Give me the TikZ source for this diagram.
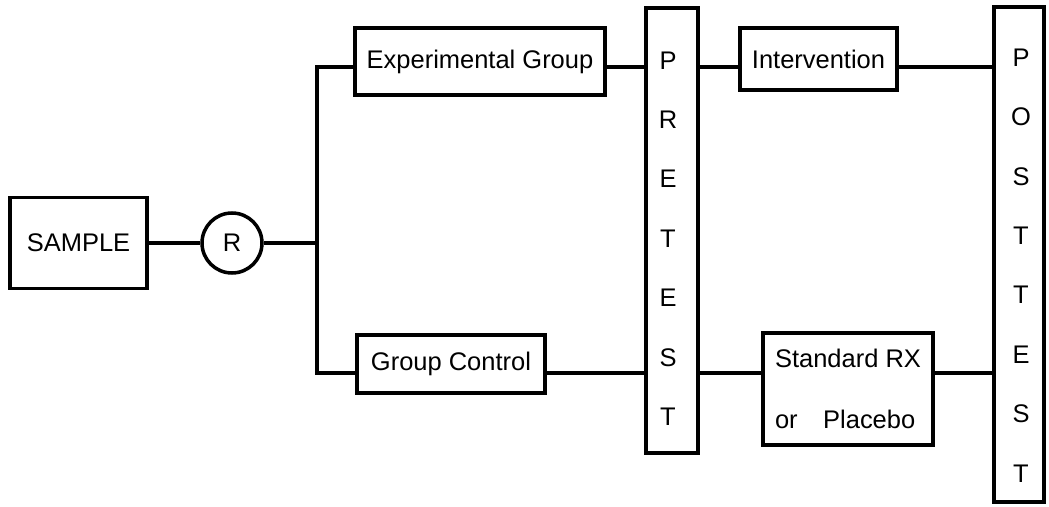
\documentclass[tikz,border=0pt]{standalone}
\usepackage{fontspec}
\setmainfont{Liberation Sans}
\tikzstyle{basic} = [rectangle, minimum width=3.8cm, minimum height=1.2cm, text centered, draw=black, line width=2pt, font=\fontsize{14.5}{17.4}\selectfont]
\tikzstyle{rand} = [circle, minimum size=1.2cm, inner sep=0pt, text centered, draw=black, line width=2pt, font=\fontsize{14.5}{17.4}\selectfont]
\tikzstyle{testbar} = [rectangle, minimum width=1.05cm, draw=black, line width=2pt]
\tikzstyle{letters} = [inner sep=0pt, align=center, font=\fontsize{14.5}{33.8}\selectfont]

\begin{document}
\begin{tikzpicture}[x=0.02cm, y=-0.02cm]
        \tikzset{link/.style={line width=2pt}}
        \useasboundingbox (0,0) rectangle (1049,507);

        \node (sample) [basic, minimum width=2.74cm, minimum height=1.82cm] at (78.5,243) {SAMPLE};
        \node (rnd) [rand] at (232,243) {R};
        \coordinate (split) at (317,243);
        \coordinate (upper) at (317,67);
        \coordinate (lower) at (317,373);

        \node (expGroup) [basic, minimum width=5cm, minimum height=1.34cm] at (480,61.5) {Experimental Group};
        \node (ctrlGroup) [basic, minimum width=3.76cm, minimum height=1.16cm] at (451,364) {Group Control};

        \node (pretest) [testbar, minimum height=8.9cm] at (672,230.5) {};
        \node (preLetters) [letters] at (668,238.5) {P\\R\\E\\T\\E\\S\\T};

        \node (interv) [basic, minimum width=3.14cm, minimum height=1.24cm] at (818.5,59) {Intervention};
        \node (standard) [basic, minimum width=3.4cm, minimum height=2.24cm, align=left, font=\fontsize{14.5}{34.5}\selectfont] at (848,389) {Standard RX\\or\quad Placebo};

        \node (posttest) [testbar, minimum width=1cm, minimum height=9.9cm] at (1019,254.5) {};
        \node (postLetters) [letters] at (1021,265.5) {P\\O\\S\\T\\T\\E\\S\\T};

        \draw [link] (sample.east) -- (rnd.west);
        \draw [link] (rnd.east) -- (split);
        \draw [link] (upper -| expGroup.west) -- (upper) -- (lower) -- (lower -| ctrlGroup.west);

        \draw [link] (upper -| expGroup.east) -- (upper -| pretest.west);
        \draw [link] (upper -| pretest.east) -- (upper -| interv.west);
        \draw [link] (upper -| interv.east) -- (upper -| posttest.west);

        \draw [link] (lower -| ctrlGroup.east) -- (lower -| pretest.west);
        \draw [link] (lower -| pretest.east) -- (lower -| standard.west);
        \draw [link] (lower -| standard.east) -- (lower -| posttest.west);
    \end{tikzpicture}
\end{document}
